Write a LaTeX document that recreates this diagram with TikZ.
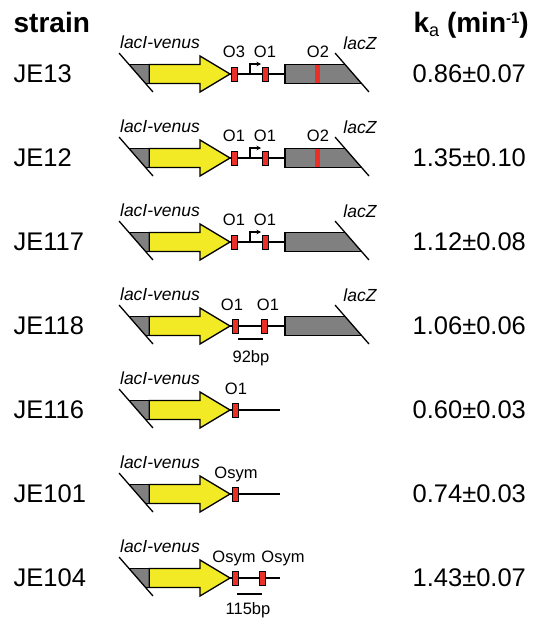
\documentclass[tikz,border=0pt]{standalone}
\usepackage{fontspec}
\setmainfont{Liberation Sans}
\usetikzlibrary{arrows.meta}
\definecolor{genyellow}{RGB}{242,234,36}
\definecolor{gengray}{RGB}{128,128,128}
\definecolor{opred}{RGB}{234,48,38}
\tikzset{
  genelbl/.style={font=\fontsize{17.5}{18}\selectfont\itshape, anchor=base, inner sep=0pt},
  oplbl/.style={font=\fontsize{16.5}{17}\selectfont, anchor=base, inner sep=0pt},
  strainlbl/.style={font=\fontsize{25.5}{26}\selectfont, anchor=base west, inner sep=0pt},
  headlbl/.style={font=\fontsize{28}{28}\selectfont\bfseries, anchor=base west, inner sep=0pt},
  opbox/.style={draw=black, fill=opred, line width=1pt, rectangle, minimum width=6pt, minimum height=14pt, inner sep=0pt},
  venus/.pic={
    \fill[gengray] (129,-9.5) -- (149.3,-9.5) -- (149.3,9.5) -- (145.6,9.5) -- cycle;
    \draw (129,-9.5) -- (149.3,-9.5) -- (149.3,9.5) -- (145.6,9.5);
    \draw[fill=genyellow] (149.3,-9.5) -- (200,-9.5) -- (200,-18) -- (230,0) -- (200,18) -- (200,9.5) -- (149.3,9.5) -- cycle;
    \draw (119,-21) -- (153,18);
    \node[genelbl] at (160,-26) {lacI-venus};
  },
  laczbox/.pic={
    \fill[gengray] (285,-9.5) -- (345,-9.5) -- (361.6,9.5) -- (285,9.5) -- cycle;
  },
  laczedge/.pic={
    \draw (345,-9.5) -- (285,-9.5) -- (285,9.5) -- (361.6,9.5);
    \draw (335,-21) -- (369,18);
    \node[genelbl] at (360,-25) {lacZ};
  },
  otwo/.pic={
    \fill[opred] (315,-9.5) rectangle (320,9.5);
  },
}
\begin{document}
\begin{tikzpicture}[x=1pt, y=-1pt, line width=1.3pt]
\useasboundingbox (0,0) rectangle (536,621);

% headers
\node[headlbl] (hstrain) at (13,32) {strain};
\node[headlbl] (hka) at (413,32) {k{\fontsize{18}{18}\selectfont\mdseries\raisebox{-0.25em}{a}} (min{\fontsize{15}{15}\selectfont\raisebox{0.55em}{-1}})};

% ---------- row 1: JE13 (y0 = 74)
\node[strainlbl] (s1) at (13,82) {JE13};
\node[strainlbl] (v1) at (412,82) {0.86±0.07};
\pic at (0,74) {venus};
\pic at (0,74) {laczbox};
\pic at (0,74) {otwo};
\pic at (0,74) {laczedge};
\coordinate (l1e) at (285,74);
\draw (230,74) -- (l1e);
\draw[line width=1.1pt, -{Stealth[length=4.5pt,width=4.5pt]}] (250,74) |- (261,64);
\node[opbox] (b1a) at (234,74) {};
\node[opbox] (b1b) at (265,74) {};
\node[oplbl] at (234,57) {O3};
\node[oplbl] at (265,57) {O1};
\node[oplbl] at (318,57) {O2};

% ---------- row 2: JE12 (y0 = 158)
\node[strainlbl] (s2) at (13,166) {JE12};
\node[strainlbl] (v2) at (412,166) {1.35±0.10};
\pic at (0,158) {venus};
\pic at (0,158) {laczbox};
\pic at (0,158) {otwo};
\pic at (0,158) {laczedge};
\coordinate (l2e) at (285,158);
\draw (230,158) -- (l2e);
\draw[line width=1.1pt, -{Stealth[length=4.5pt,width=4.5pt]}] (250,158) |- (261,148);
\node[opbox] (b2a) at (234,158) {};
\node[opbox] (b2b) at (265,158) {};
\node[oplbl] at (234,141) {O1};
\node[oplbl] at (265,141) {O1};
\node[oplbl] at (318,141) {O2};

% ---------- row 3: JE117 (y0 = 242)
\node[strainlbl] (s3) at (13,250) {JE117};
\node[strainlbl] (v3) at (412,250) {1.12±0.08};
\pic at (0,242) {venus};
\pic at (0,242) {laczbox};
\pic at (0,242) {laczedge};
\coordinate (l3e) at (285,242);
\draw (230,242) -- (l3e);
\draw[line width=1.1pt, -{Stealth[length=4.5pt,width=4.5pt]}] (250,242) |- (261,232);
\node[opbox] (b3a) at (234,242) {};
\node[opbox] (b3b) at (265,242) {};
\node[oplbl] at (234,225) {O1};
\node[oplbl] at (265,225) {O1};

% ---------- row 4: JE118 (y0 = 326)
\node[strainlbl] (s4) at (13,334) {JE118};
\node[strainlbl] (v4) at (412,334) {1.06±0.06};
\pic at (0,326) {venus};
\pic at (0,326) {laczbox};
\pic at (0,326) {laczedge};
\coordinate (l4e) at (285,326);
\draw (230,326) -- (l4e);
\node[opbox] (b4a) at (235.5,326) {};
\node[opbox] (b4b) at (264.5,326) {};
\node[oplbl] at (232,310) {O1};
\node[oplbl] at (268,310) {O1};
\coordinate (bar4a) at (238,339);
\coordinate (bar4b) at (263,339);
\draw (bar4a) -- (bar4b);
\node[oplbl] (bp4) at (251,362) {92bp};

% ---------- row 5: JE116 (y0 = 410)
\node[strainlbl] (s5) at (13,418) {JE116};
\node[strainlbl] (v5) at (412,418) {0.60±0.03};
\pic at (0,410) {venus};
\coordinate (l5e) at (280,410);
\draw (230,410) -- (l5e);
\node[opbox] (b5a) at (235,410) {};
\node[oplbl] at (236,394) {O1};

% ---------- row 6: JE101 (y0 = 494)
\node[strainlbl] (s6) at (13,502) {JE101};
\node[strainlbl] (v6) at (412,502) {0.74±0.03};
\pic at (0,494) {venus};
\coordinate (l6e) at (280,494);
\draw (230,494) -- (l6e);
\node[opbox] (b6a) at (235,494) {};
\node[oplbl] at (236,478) {Osym};

% ---------- row 7: JE104 (y0 = 578)
\node[strainlbl] (s7) at (13,586) {JE104};
\node[strainlbl] (v7) at (412,586) {1.43±0.07};
\pic at (0,578) {venus};
\coordinate (l7e) at (280,578);
\draw (230,578) -- (l7e);
\node[opbox] (b7a) at (235.5,578) {};
\node[opbox] (b7b) at (262,578) {};
\node[oplbl] at (234,562) {Osym};
\node[oplbl] at (283,562) {Osym};
\coordinate (bar7a) at (237,594);
\coordinate (bar7b) at (262,594);
\draw (bar7a) -- (bar7b);
\node[oplbl] (bp7) at (248,614) {115bp};
\end{tikzpicture}
\end{document}
